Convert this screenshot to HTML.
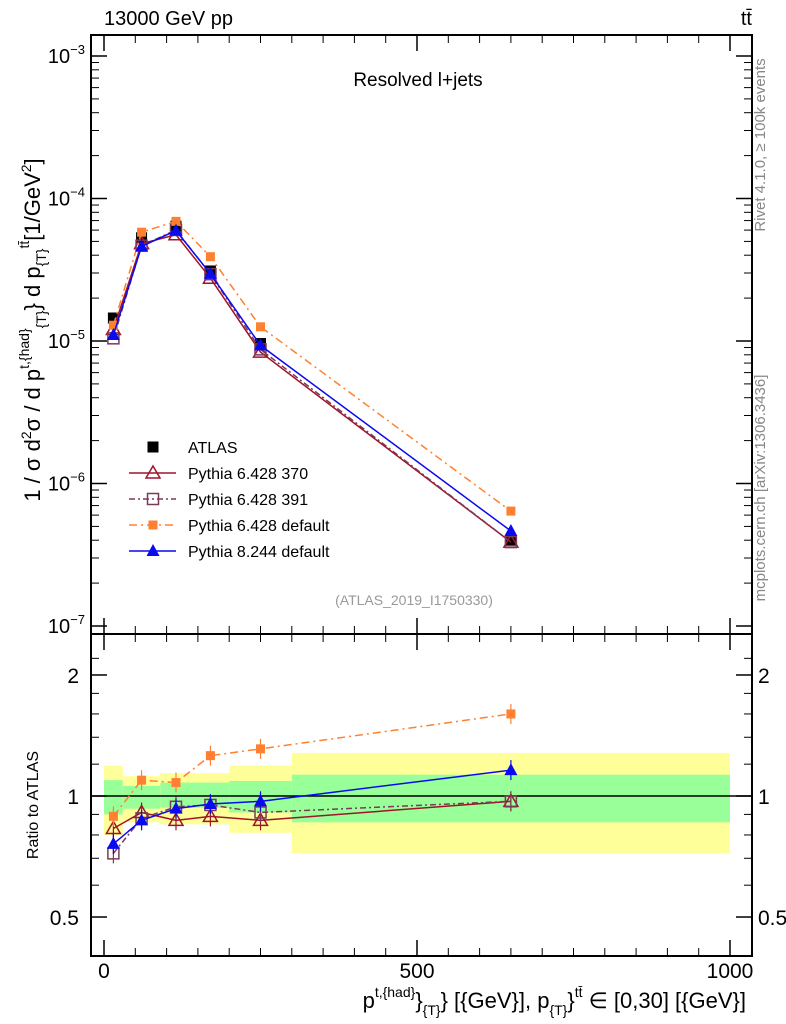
<!DOCTYPE html>
<html><head><meta charset="utf-8"><style>
body{margin:0;background:#fff;}
svg{display:block;font-family:"Liberation Sans",sans-serif;}
</style></head><body>
<svg id="c" width="786" height="1024"></svg>
<script>
const xCenters=[15,60,115,170,250,650];
const binEdges=[0,30,90,200,300,1000];
const atlas=[1.45e-5,5.3e-5,6.4e-5,3.1e-5,9.6e-6,4.0e-7];
const ratio370=[0.83,0.91,0.87,0.89,0.87,0.97];
const ratio391=[0.72,0.88,0.94,0.95,0.91,0.97];
const ratioP6def=[0.89,1.095,1.08,1.26,1.31,1.60];
const ratioP8=[0.76,0.87,0.93,0.955,0.97,1.16];
const greenLo=[0.90,0.93,0.935,0.91,0.86];
const greenHi=[1.095,1.06,1.08,1.09,1.13];
const yellowLo=[0.80,0.86,0.85,0.81,0.72];
const yellowHi=[1.19,1.12,1.14,1.19,1.28];
const mainTicks=[-3,-4,-5,-6,-7];
const ratioTicks=[0.5,1,2];
const xTicks=[0,500,1000];

const NS="http://www.w3.org/2000/svg";
const svg=document.getElementById('c');
function el(t,a,p){const e=document.createElementNS(NS,t);for(const k in a)e.setAttribute(k,a[k]);(p||svg).appendChild(e);return e;}
const L=91,R=752,T=35,MB=634,B=956;
const X=v=>104+v*0.626;
const Ym=v=>56-(Math.log10(v)+3)*142.5;
const Yr=v=>796-Math.log10(v)*402;

const bands=el('g',{});


for(let i=0;i<binEdges.length-1;i++){
 const r1=el('rect',{x:X(binEdges[i]),width:X(binEdges[i+1])-X(binEdges[i]),y:Yr(yellowHi[i]),height:Yr(yellowLo[i])-Yr(yellowHi[i]),fill:'#ffff99'},bands);
 
 
 const r2=el('rect',{x:X(binEdges[i]),width:X(binEdges[i+1])-X(binEdges[i]),y:Yr(greenHi[i]),height:Yr(greenLo[i])-Yr(greenHi[i]),fill:'#99ff99'},bands);
 
 
}
el('line',{x1:L,x2:R,y1:Yr(1),y2:Yr(1),stroke:'#000','stroke-width':1.5});

for(const [y1,y2] of [[T,MB],[MB,B]]){
 const f=el('rect',{x:L,y:y1,width:R-L,height:y2-y1,fill:'none',stroke:'#000','stroke-width':2});
 
 
}
mainTicks.forEach(p=>{
 const y=Ym(Math.pow(10,p));
 el('line',{x1:L,x2:L+16,y1:y,y2:y,stroke:'#000','stroke-width':1.5});
 el('line',{x1:R,x2:R-16,y1:y,y2:y,stroke:'#000','stroke-width':1.5});
 for(let m=2;m<10;m++){const yy=Ym(m*Math.pow(10,p));if(yy>T&&yy<MB){el('line',{x1:L,x2:L+8,y1:yy,y2:yy,stroke:'#000'});el('line',{x1:R,x2:R-8,y1:yy,y2:yy,stroke:'#000'});}}
 const t=el('text',{x:L-6,y:y+7,'text-anchor':'end','font-size':20});
 t.innerHTML='10<tspan dy="-9" font-size="13">−'+(-p)+'</tspan>';
 
 
});
ratioTicks.forEach(v=>{
 const y=Yr(v);
 el('line',{x1:L,x2:L+16,y1:y,y2:y,stroke:'#000','stroke-width':1.5});
 el('line',{x1:R,x2:R-16,y1:y,y2:y,stroke:'#000','stroke-width':1.5});
 const t1=el('text',{x:L-12,y:y+8,'text-anchor':'end','font-size':21});t1.textContent=v;
 
 
 const t2=el('text',{x:R+6,y:y+8,'font-size':21});t2.textContent=v;
 
 
});
[0.4,0.6,0.7,0.8,0.9,1.2,1.4,1.6,1.8,2.2].forEach(v=>{const y=Yr(v);if(y>MB&&y<B){el('line',{x1:L,x2:L+8,y1:y,y2:y,stroke:'#000'});el('line',{x1:R,x2:R-8,y1:y,y2:y,stroke:'#000'});}});
for(let v=0;v<=1000;v+=50){
 const big=v%500===0,len=big?16:8;
 for(const [yb,dir] of [[MB,-1],[B,-1],[T,1],[MB,1]]){
  el('line',{x1:X(v),x2:X(v),y1:yb,y2:yb+dir*len,stroke:'#000','stroke-width':big?1.5:1});
 }
}
xTicks.forEach(v=>{const t=el('text',{x:X(v),y:B+22,'text-anchor':'middle','font-size':21});t.textContent=v;
 
 });

function mk(type,x,y,col,p){
 const s=5.5;
 if(type==='sqf')return el('rect',{x:x-s,y:y-s,width:2*s,height:2*s,fill:col},p);
 if(type==='sqo')return el('rect',{x:x-s,y:y-s,width:2*s,height:2*s,fill:'none',stroke:col,'stroke-width':1.5},p);
 if(type==='sqs')return el('rect',{x:x-4.5,y:y-4.5,width:9,height:9,fill:col},p);
 if(type==='tro')return el('polygon',{points:`${x},${y-7} ${x-7},${y+5} ${x+7},${y+5}`,fill:'none',stroke:col,'stroke-width':1.5},p);
 return el('polygon',{points:`${x},${y-7} ${x-6.5},${y+5} ${x+6.5},${y+5}`,fill:col},p);
}
const series=[
 {name:'pythia6-370',r:ratio370,col:'#a0142a',dash:'',m:'tro'},
 {name:'pythia6-391',r:ratio391,col:'#7a3a5a',dash:'6,3,2,3',m:'sqo'},
 {name:'pythia6-default',r:ratioP6def,col:'#ff8030',dash:'8,4,2,4',m:'sqs'},
 {name:'pythia8-default',r:ratioP8,col:'#0a0aee',dash:'',m:'trf'}
];
const ag=el('g',{});


atlas.forEach((v,i)=>mk('sqf',X(xCenters[i]),Ym(v),'#000',ag));
series.forEach(s=>{
 for(const panel of ['main','ratio']){
  const g=el('g',{});
  
  
  const pts=xCenters.map((x,i)=>[X(x),panel==='main'?Ym(atlas[i]*s.r[i]):Yr(s.r[i])]);
  el('polyline',{points:pts.map(p=>p.join(',')).join(' '),fill:'none',stroke:s.col,'stroke-width':1.5,'stroke-dasharray':s.dash},g);
  pts.forEach(p=>{
   if(panel==='ratio'){el('line',{x1:p[0],x2:p[0],y1:p[1]-10,y2:p[1]+10,stroke:s.col,'stroke-width':1.2},g);}
   mk(s.m,p[0],p[1],s.col,g);
  });
 }
});
const leg=el('g',{});


const labels=['ATLAS','Pythia 6.428 370','Pythia 6.428 391','Pythia 6.428 default','Pythia 8.244 default'];
labels.forEach((lab,i)=>{
 const y=447+i*26;
 const g=el('g',{},leg);
 
 
 if(i===0)mk('sqf',153,y,'#000',g);
 else{const s=series[i-1];el('line',{x1:129,x2:176,y1:y,y2:y,stroke:s.col,'stroke-width':1.5,'stroke-dasharray':s.dash},g);mk(s.m,153,y,s.col,g);}
 const t=el('text',{x:188,y:y+6,'font-size':16},g);t.textContent=lab;
});
</script>
<svg width="786" height="1024" style="position:absolute;left:0;top:0;font-family:'Liberation Sans',sans-serif">
<text x="104" y="25" font-size="20">13000 GeV pp</text>
<text x="752" y="25" font-size="20" text-anchor="end">tt̄</text>
<text x="418" y="86" font-size="19" text-anchor="middle">Resolved l+jets</text>
<text x="414" y="605" font-size="14" fill="#999" text-anchor="middle">(ATLAS_2019_I1750330)</text>
<text transform="translate(40,330) rotate(-90)" font-size="22" text-anchor="middle">1 / σ d<tspan dy="-9" font-size="14">2</tspan><tspan dy="9">σ / d p</tspan><tspan dy="-11" font-size="14">t,{had}</tspan><tspan dy="17" font-size="14">{T}</tspan><tspan dy="-6">} d p</tspan><tspan dy="6" font-size="14">{T}</tspan><tspan dy="-17" font-size="14">tt̄</tspan><tspan dy="11">[1/GeV</tspan><tspan dy="-9" font-size="14">2</tspan><tspan dy="9">]</tspan></text>
<text transform="translate(38,805) rotate(-90)" font-size="16" text-anchor="middle">Ratio to ATLAS</text>
<text transform="translate(765,145) rotate(-90)" font-size="15" fill="#888" text-anchor="middle">Rivet 4.1.0, ≥ 100k events</text>
<text transform="translate(765,488) rotate(-90)" font-size="15" fill="#888" text-anchor="middle">mcplots.cern.ch [arXiv:1306.3436]</text>
<text x="746" y="1008" font-size="22" text-anchor="end">p<tspan dy="-11" font-size="14">t,{had}</tspan><tspan dy="11">}</tspan><tspan dy="7" font-size="14">{T}</tspan><tspan dy="-7">} [{GeV}], p</tspan><tspan dy="7" font-size="14">{T}</tspan><tspan dy="-7">}</tspan><tspan dy="-11" font-size="14">tt̄</tspan><tspan dy="11"> ∈ [0,30] [{GeV}]</tspan></text>
</svg>
</body></html>
